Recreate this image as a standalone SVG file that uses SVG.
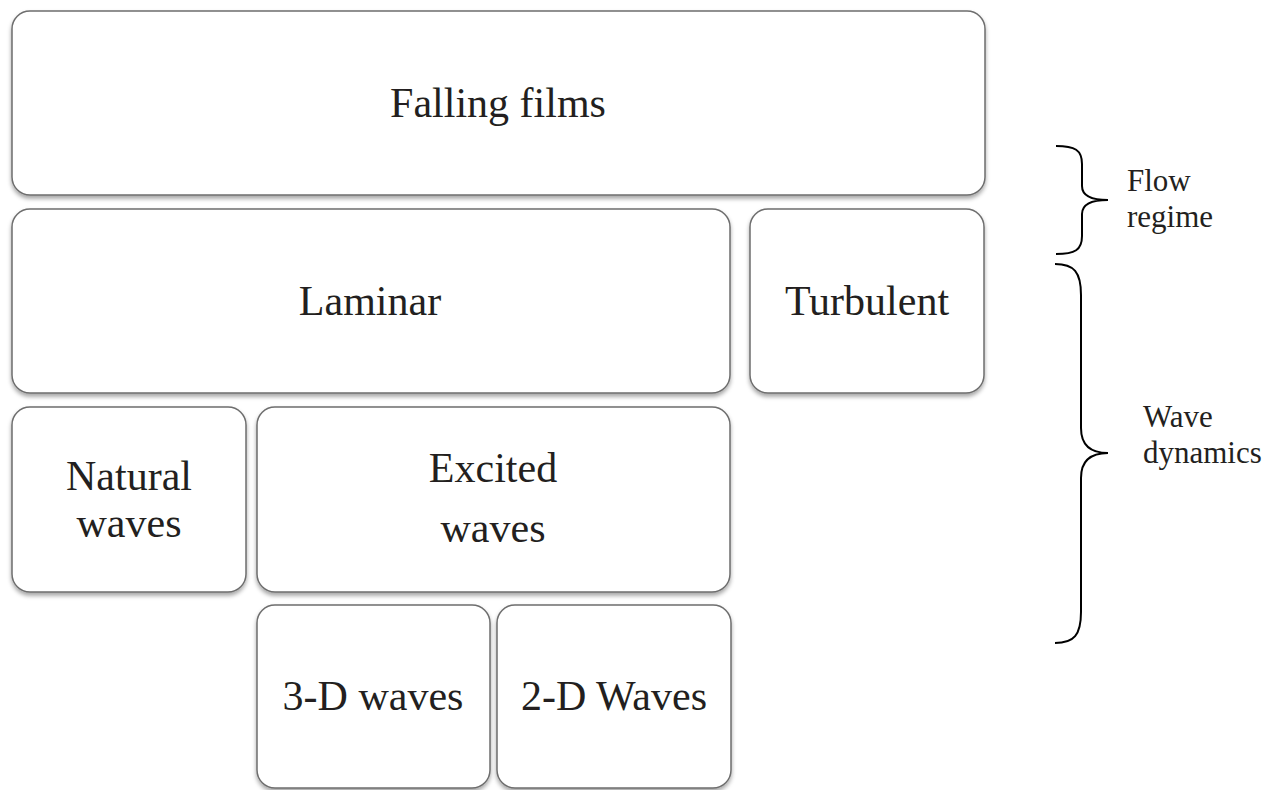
<svg xmlns="http://www.w3.org/2000/svg" width="1282" height="790" viewBox="0 0 1282 790">
  <defs>
    <filter id="shadow" x="-5%" y="-5%" width="110%" height="120%">
      <feDropShadow dx="0" dy="3" stdDeviation="2.2" flood-color="#000" flood-opacity="0.35"/>
    </filter>
  </defs>
  <style>
    .box { fill: #ffffff; stroke: #6e6e6e; stroke-width: 1.5; filter: url(#shadow); }
    .lbl { font-family: "Liberation Serif", "Times New Roman", serif; font-size: 42px; fill: #231f20; text-anchor: middle; }
    .side { font-family: "Liberation Serif", "Times New Roman", serif; font-size: 31px; fill: #231f20; }
    .brace { fill: none; stroke: #000; stroke-width: 2; }
  </style>
  <rect width="1282" height="790" fill="#ffffff"/>

  <g id="falling-films">
    <rect class="box" x="12" y="11" width="973" height="184" rx="18"/>
    <text class="lbl" x="498" y="117">Falling films</text>
  </g>
  <g id="laminar">
    <rect class="box" x="12" y="209" width="718" height="184" rx="18"/>
    <text class="lbl" x="370" y="315">Laminar</text>
  </g>
  <g id="turbulent">
    <rect class="box" x="750" y="209" width="234" height="184" rx="18"/>
    <text class="lbl" x="867" y="315">Turbulent</text>
  </g>
  <g id="natural-waves">
    <rect class="box" x="12" y="407" width="234" height="185" rx="18"/>
    <text class="lbl" x="129" y="490">Natural</text>
    <text class="lbl" x="129" y="537">waves</text>
  </g>
  <g id="excited-waves">
    <rect class="box" x="257" y="407" width="473" height="185" rx="18"/>
    <text class="lbl" x="493" y="482">Excited</text>
    <text class="lbl" x="493" y="542">waves</text>
  </g>
  <g id="waves-3d">
    <rect class="box" x="257" y="605" width="233" height="183" rx="18"/>
    <text class="lbl" x="373" y="710">3-D waves</text>
  </g>
  <g id="waves-2d">
    <rect class="box" x="497" y="605" width="234" height="183" rx="18"/>
    <text class="lbl" x="614" y="710">2-D Waves</text>
  </g>

  <g id="connectors">
    <path class="brace" d="M1056,146 C1075,146 1082,150 1082,164 L1082,186 C1082,196 1092,200 1108,200 C1092,200 1082,204 1082,214 L1082,236 C1082,250 1075,254 1056,254"/>
    <path class="brace" d="M1055,264 C1074,264 1081,272 1081,295 L1081,428 C1081,444 1090,453 1108,453 C1090,453 1081,462 1081,478 L1081,612 C1081,635 1074,643 1055,643"/>
  </g>

  <g id="flow-regime">
    <text class="side" x="1127" y="191">Flow</text>
    <text class="side" x="1127" y="227">regime</text>
  </g>
  <g id="wave-dynamics">
    <text class="side" x="1143" y="427">Wave</text>
    <text class="side" x="1143" y="463">dynamics</text>
  </g>
</svg>
